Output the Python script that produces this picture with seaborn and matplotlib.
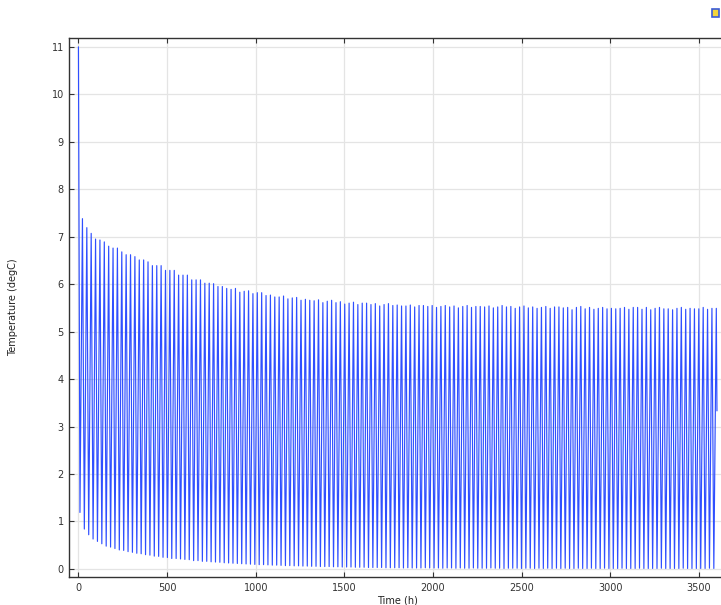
import numpy as np
import pandas as pd
import seaborn as sns
import matplotlib.pyplot as plt
from matplotlib.patches import Rectangle

# values: daily maxima / minima of the cycling temperature
start_temp = 11.0
end_temp = 3.33
end_time = 3602.0

peak_temps = [
    7.38, 7.19, 7.07, 6.95, 6.93, 6.89, 6.80, 6.76, 6.76, 6.68,
    6.62, 6.62, 6.58, 6.51, 6.51, 6.47, 6.39, 6.39, 6.39, 6.29,
    6.29, 6.29, 6.19, 6.19, 6.19, 6.09, 6.09, 6.09, 6.02, 6.02,
    6.01, 5.95, 5.95, 5.91, 5.89, 5.91, 5.83, 5.85, 5.86, 5.80,
    5.82, 5.82, 5.76, 5.77, 5.73, 5.73, 5.75, 5.69, 5.71, 5.72,
    5.66, 5.68, 5.66, 5.65, 5.67, 5.61, 5.64, 5.66, 5.61, 5.63,
    5.58, 5.60, 5.62, 5.57, 5.60, 5.60, 5.57, 5.59, 5.54, 5.57,
    5.59, 5.55, 5.56, 5.54, 5.54, 5.56, 5.52, 5.55, 5.55, 5.53,
    5.55, 5.51, 5.53, 5.55, 5.52, 5.54, 5.50, 5.53, 5.55, 5.51,
    5.53, 5.53, 5.52, 5.54, 5.50, 5.52, 5.55, 5.52, 5.53, 5.49,
    5.52, 5.54, 5.50, 5.52, 5.49, 5.51, 5.53, 5.49, 5.52, 5.52,
    5.50, 5.51, 5.46, 5.51, 5.53, 5.48, 5.51, 5.47, 5.49, 5.51,
    5.48, 5.49, 5.48, 5.49, 5.51, 5.47, 5.51, 5.51, 5.47, 5.51,
    5.46, 5.49, 5.51, 5.48, 5.48, 5.46, 5.49, 5.51, 5.47, 5.49,
    5.48, 5.48, 5.51, 5.47, 5.49, 5.49,
]

trough_temps = [
    1.19, 0.84, 0.72, 0.63, 0.58, 0.53, 0.48, 0.46, 0.43, 0.40,
    0.39, 0.365, 0.35, 0.33, 0.32, 0.30, 0.29, 0.27, 0.265, 0.245,
    0.24, 0.22, 0.22, 0.21, 0.20, 0.195, 0.175, 0.175, 0.16, 0.16,
    0.15, 0.145, 0.14, 0.13, 0.125, 0.12, 0.115, 0.11, 0.105, 0.10,
    0.095, 0.09, 0.09, 0.085, 0.08, 0.08, 0.075, 0.07, 0.07, 0.065,
    0.065, 0.06, 0.06, 0.055, 0.055, 0.05, 0.05, 0.05, 0.045, 0.045,
    0.04, 0.04, 0.04, 0.035, 0.035, 0.035, 0.03, 0.03, 0.03, 0.03,
    0.025, 0.025, 0.025, 0.025, 0.02, 0.025, 0.02, 0.02, 0.02, 0.025,
    0.02, 0.02, 0.02, 0.015, 0.02, 0.02, 0.015, 0.02, 0.015, 0.015,
    0.02, 0.015, 0.015, 0.015, 0.02, 0.015, 0.015, 0.01, 0.015, 0.015,
    0.015, 0.01, 0.015, 0.015, 0.01, 0.015, 0.01, 0.015, 0.01, 0.015,
    0.01, 0.015, 0.01, 0.01, 0.015, 0.01, 0.01, 0.015, 0.01, 0.01,
    0.015, 0.01, 0.01, 0.01, 0.015, 0.01, 0.01, 0.01, 0.015, 0.01,
    0.01, 0.01, 0.01, 0.015, 0.01, 0.01, 0.01, 0.01, 0.015, 0.01,
    0.01, 0.01, 0.01, 0.01, 0.015, 0.01,
]

# cycle timing (hours)
period_h = 24.66
first_trough_h = 8.6
first_peak_h = 22.6

n = len(peak_temps)
cycle = np.arange(n)
trough_times = first_trough_h + period_h * cycle
peak_times = first_peak_h + period_h * cycle

times = [0.0]
temps = [start_temp]
for k in range(n):
    times += [trough_times[k], peak_times[k]]
    temps += [trough_temps[k], peak_temps[k]]
times.append(end_time)
temps.append(end_temp)
df = pd.DataFrame({"Time (h)": times, "Temperature (degC)": temps})

sns.set_style("white")
plt.rcParams['font.family'] = ['DejaVu Sans']

fig = plt.figure(figsize=(7.21, 6.05), dpi=100)
ax = fig.add_axes([0.0963, 0.0463, 0.9099, 0.8904])

sns.lineplot(data=df, x="Time (h)", y="Temperature (degC)", ax=ax,
             estimator=None, sort=False, color="#2f4fff", linewidth=0.85)

ax.set_xlim(-50.8, 3650)
ax.set_ylim(-0.17, 11.18)
ax.set_xticks(np.arange(0, 3501, 500))
ax.set_yticks(np.arange(0, 12, 1))
ax.grid(True, color="#e4e4e4", linewidth=0.9)
ax.set_axisbelow(True)

for side in ["left", "bottom", "top", "right"]:
    ax.spines[side].set_color("#333333")
    ax.spines[side].set_linewidth(1.0)
ax.tick_params(axis="both", direction="in", length=3.5, width=0.8,
               colors="#333333", labelsize=7, top=True, left=True,
               bottom=True, right=False, pad=4)
ax.set_xlabel("Time (h)", fontsize=7, color="#222222", labelpad=2)
ax.set_ylabel("Temperature (degC)", fontsize=7, color="#222222", labelpad=24)

# small legend-icon in the top right corner
fig.patches.append(Rectangle((712 / 721, 1 - 17 / 605), 7 / 721, 8 / 605,
                             transform=fig.transFigure, facecolor="#f2d53c",
                             edgecolor="#3b5bd6", linewidth=1.2))

fig.savefig("out.png", dpi=100)
